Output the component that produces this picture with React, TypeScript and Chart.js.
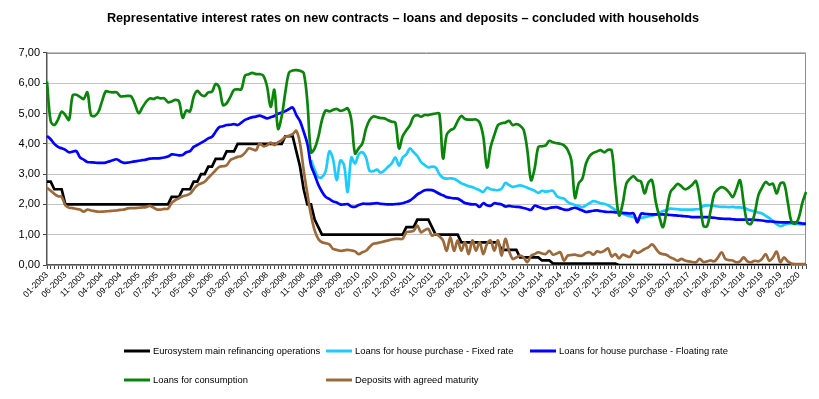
import React, { useEffect, useRef } from "react";
import { Chart, registerables } from "chart.js";

Chart.register(...registerables);

const TITLE =
  "Representative interest rates on new contracts \u2013 loans and deposits \u2013 concluded with households";

const FIRST_YEAR = 2003;
const MONTH_COUNT = 208; // 01-2003 .. 04-2020
const LABEL_EVERY = 5;

const categories: string[] = [];
for (let i = 0; i < MONTH_COUNT; i++) {
  const y = FIRST_YEAR + Math.floor(i / 12);
  const m = (i % 12) + 1;
  categories.push(`${String(m).padStart(2, "0")}-${y}`);
}

const seriesNames = [
  "Eurosystem main refinancing operations",
  "Loans for house purchase - Fixed rate",
  "Loans for house purchase - Floating rate",
  "Loans for consumption",
  "Deposits with agreed maturity",
];

// Eurosystem main refinancing operations
const mro: number[] = [
  2.75, 2.75, 2.5, 2.5, 2.5, 2.0, 2.0, 2.0, 2.0, 2.0, 2.0, 2.0, // 2003
  2.0, 2.0, 2.0, 2.0, 2.0, 2.0, 2.0, 2.0, 2.0, 2.0, 2.0, 2.0, // 2004
  2.0, 2.0, 2.0, 2.0, 2.0, 2.0, 2.0, 2.0, 2.0, 2.0, 2.25, 2.25, // 2005
  2.25, 2.5, 2.5, 2.5, 2.75, 2.75, 3.0, 3.0, 3.25, 3.25, 3.5, 3.5, // 2006
  3.5, 3.75, 3.75, 3.75, 4.0, 4.0, 4.0, 4.0, 4.0, 4.0, 4.0, 4.0, // 2007
  4.0, 4.0, 4.0, 4.0, 4.0, 4.25, 4.25, 4.25, 3.75, 3.25, 2.5, 2.0, // 2008
  2.0, 1.5, 1.25, 1.0, 1.0, 1.0, 1.0, 1.0, 1.0, 1.0, 1.0, 1.0, // 2009
  1.0, 1.0, 1.0, 1.0, 1.0, 1.0, 1.0, 1.0, 1.0, 1.0, 1.0, 1.0, // 2010
  1.0, 1.0, 1.25, 1.25, 1.25, 1.5, 1.5, 1.5, 1.5, 1.25, 1.0, 1.0, // 2011
  1.0, 1.0, 1.0, 1.0, 1.0, 0.75, 0.75, 0.75, 0.75, 0.75, 0.75, 0.75, // 2012
  0.75, 0.75, 0.75, 0.75, 0.5, 0.5, 0.5, 0.5, 0.5, 0.25, 0.25, 0.25, // 2013
  0.25, 0.25, 0.25, 0.15, 0.15, 0.15, 0.05, 0.05, 0.05, 0.05, 0.05, 0.05, // 2014
  0.05, 0.05, 0.05, 0.05, 0.05, 0.05, 0.05, 0.05, 0.05, 0.05, 0.05, 0.05, // 2015
  0, 0, 0, 0, 0, 0, 0, 0, 0, 0, 0, 0, // 2016
  0, 0, 0, 0, 0, 0, 0, 0, 0, 0, 0, 0, // 2017
  0, 0, 0, 0, 0, 0, 0, 0, 0, 0, 0, 0, // 2018
  0, 0, 0, 0, 0, 0, 0, 0, 0, 0, 0, 0, // 2019
  0, 0, 0, 0, // 2020
];

// Loans for house purchase - Fixed rate (starts 01-2009)
const housingFixed: (number | null)[] = [
  null, null, null, null, null, null, null, null, null, null, null, null, // 2003
  null, null, null, null, null, null, null, null, null, null, null, null, // 2004
  null, null, null, null, null, null, null, null, null, null, null, null, // 2005
  null, null, null, null, null, null, null, null, null, null, null, null, // 2006
  null, null, null, null, null, null, null, null, null, null, null, null, // 2007
  null, null, null, null, null, null, null, null, null, null, null, null, // 2008
  3.46, 3.15, 2.9, 2.9, 3.1, 3.75, 3.5, 2.8, 3.45, 3.3, 2.41, 3.55, // 2009
  3.35, 3.65, 3.72, 3.55, 3.1, 3.1, 3.15, 3.05, 3.12, 3.24, 3.35, 3.55, // 2010
  3.28, 3.55, 3.65, 3.85, 3.72, 3.6, 3.4, 3.3, 3.22, 3.25, 3.22, 3.0, // 2011
  2.88, 2.85, 2.86, 2.85, 2.78, 2.7, 2.65, 2.6, 2.57, 2.52, 2.47, 2.41, // 2012
  2.55, 2.5, 2.48, 2.47, 2.52, 2.71, 2.64, 2.58, 2.6, 2.63, 2.6, 2.55, // 2013
  2.5, 2.45, 2.38, 2.45, 2.42, 2.44, 2.45, 2.28, 2.22, 2.19, 2.08, 2.02, // 2014
  1.98, 1.95, 1.91, 1.97, 2.04, 2.11, 2.08, 2.04, 2.02, 1.97, 1.9, 1.82, // 2015
  1.76, 1.69, 1.64, 1.61, 1.58, 1.53, 1.55, 1.58, 1.6, 1.63, 1.66, 1.72, // 2016
  1.78, 1.82, 1.86, 1.85, 1.84, 1.83, 1.83, 1.83, 1.83, 1.84, 1.85, 1.95, // 2017
  1.97, 1.96, 1.95, 1.93, 1.92, 1.92, 1.91, 1.92, 1.9, 1.9, 1.88, 1.84, // 2018
  1.8, 1.77, 1.73, 1.7, 1.62, 1.55, 1.45, 1.35, 1.28, 1.32, 1.36, 1.37, // 2019
  1.36, 1.35, 1.34, 1.34, // 2020
];

// Loans for house purchase - Floating rate
const housingFloating: number[] = [
  4.26, 4.15, 4.0, 3.9, 3.85, 3.8, 3.72, 3.74, 3.76, 3.55, 3.48, 3.4, // 2003
  3.39, 3.38, 3.37, 3.37, 3.38, 3.42, 3.46, 3.49, 3.42, 3.37, 3.38, 3.4, // 2004
  3.42, 3.44, 3.46, 3.48, 3.51, 3.52, 3.52, 3.53, 3.55, 3.58, 3.65, 3.64, // 2005
  3.62, 3.63, 3.72, 3.76, 3.9, 3.96, 4.03, 4.1, 4.18, 4.23, 4.4, 4.55, // 2006
  4.58, 4.62, 4.63, 4.65, 4.62, 4.7, 4.79, 4.84, 4.88, 4.9, 4.93, 4.89, // 2007
  4.84, 4.88, 4.92, 4.99, 5.03, 5.08, 5.15, 5.2, 4.95, 4.75, 4.4, 4.01, // 2008
  3.29, 2.98, 2.65, 2.42, 2.25, 2.18, 2.1, 2.06, 2.0, 2.0, 2.01, 1.93, // 2009
  1.92, 1.98, 2.02, 2.02, 2.02, 2.03, 2.04, 2.02, 2.01, 2.0, 2.0, 2.01, // 2010
  2.02, 2.04, 2.08, 2.13, 2.22, 2.33, 2.4, 2.47, 2.48, 2.47, 2.42, 2.35, // 2011
  2.3, 2.24, 2.22, 2.2, 2.19, 2.12, 2.05, 2.02, 2.0, 2.0, 1.92, 2.04, // 2012
  1.97, 1.96, 2.04, 2.02, 2.0, 1.93, 1.95, 1.93, 1.92, 1.91, 1.88, 1.85, // 2013
  1.82, 1.96, 1.92, 1.88, 1.85, 1.88, 1.9, 1.91, 1.87, 1.83, 1.82, 1.86, // 2014
  1.89, 1.85, 1.8, 1.75, 1.77, 1.79, 1.8, 1.78, 1.76, 1.75, 1.75, 1.74, // 2015
  1.73, 1.72, 1.71, 1.7, 1.7, 1.41, 1.69, 1.69, 1.68, 1.67, 1.67, 1.67, // 2016
  1.67, 1.66, 1.65, 1.64, 1.63, 1.62, 1.61, 1.6, 1.58, 1.58, 1.58, 1.58, // 2017
  1.58, 1.57, 1.56, 1.54, 1.53, 1.52, 1.52, 1.51, 1.5, 1.5, 1.5, 1.5, // 2018
  1.5, 1.49, 1.48, 1.47, 1.45, 1.44, 1.43, 1.42, 1.41, 1.41, 1.41, 1.41, // 2019
  1.4, 1.39, 1.37, 1.36, // 2020
];

// Loans for consumption
const consumption: number[] = [
  6.05, 4.75, 4.62, 4.8, 5.06, 4.95, 4.79, 5.6, 5.62, 5.55, 5.48, 5.7, // 2003
  4.95, 4.92, 5.05, 5.4, 5.73, 5.71, 5.7, 5.7, 5.57, 5.57, 5.58, 5.56, // 2004
  5.3, 5.01, 5.2, 5.38, 5.5, 5.48, 5.53, 5.5, 5.5, 5.37, 5.4, 5.45, // 2005
  5.4, 4.86, 5.1, 5.07, 5.55, 5.75, 5.62, 5.58, 5.7, 5.72, 5.98, 5.85, // 2006
  5.28, 5.34, 5.55, 5.78, 5.8, 5.8, 6.25, 6.3, 6.34, 6.3, 6.3, 6.25, // 2007
  5.9, 5.22, 5.78, 4.5, 4.9, 5.7, 6.35, 6.42, 6.43, 6.41, 6.34, 5.4, // 2008
  3.72, 3.85, 4.23, 4.79, 5.1, 5.07, 5.12, 5.15, 5.09, 5.12, 5.17, 4.79, // 2009
  3.68, 3.85, 4.01, 4.5, 4.79, 4.9, 4.88, 4.85, 4.84, 4.78, 4.73, 4.7, // 2010
  3.85, 4.25, 4.45, 4.62, 4.9, 4.95, 4.9, 4.95, 4.95, 4.98, 5.0, 5.0, // 2011
  3.52, 4.3, 4.45, 4.51, 4.75, 4.92, 4.82, 4.8, 4.8, 4.8, 4.7, 4.23, // 2012
  3.22, 3.9, 4.29, 4.62, 4.68, 4.7, 4.76, 4.62, 4.65, 4.6, 4.46, 3.79, // 2013
  2.8, 3.19, 3.9, 3.92, 3.95, 4.1, 4.05, 4.02, 4.0, 3.95, 3.8, 3.46, // 2014
  2.22, 2.69, 2.85, 3.35, 3.6, 3.7, 3.75, 3.79, 3.72, 3.8, 3.78, 2.6, // 2015
  1.64, 2.02, 2.69, 2.85, 2.93, 2.8, 2.75, 2.36, 2.72, 2.8, 2.1, 1.6, // 2016
  1.25, 1.8, 2.4, 2.55, 2.68, 2.6, 2.5, 2.55, 2.65, 2.77, 2.2, 1.3, // 2017
  1.28, 1.8, 2.35, 2.5, 2.57, 2.52, 2.4, 2.24, 2.5, 2.8, 2.05, 1.4, // 2018
  1.36, 1.7, 2.3, 2.55, 2.74, 2.65, 2.68, 2.36, 2.69, 2.7, 2.1, 1.45, // 2019
  1.36, 1.55, 2.05, 2.41, // 2020
];

// Deposits with agreed maturity
const deposits: number[] = [
  2.55, 2.45, 2.35, 2.27, 2.25, 1.97, 1.89, 1.88, 1.85, 1.83, 1.76, 1.83, // 2003
  1.8, 1.78, 1.76, 1.76, 1.77, 1.78, 1.79, 1.8, 1.82, 1.83, 1.87, 1.88, // 2004
  1.88, 1.89, 1.9, 1.91, 1.95, 1.9, 1.83, 1.83, 1.85, 1.86, 2.05, 2.14, // 2005
  2.2, 2.27, 2.3, 2.35, 2.5, 2.63, 2.69, 2.75, 2.88, 3.0, 3.13, 3.24, // 2006
  3.26, 3.29, 3.46, 3.52, 3.57, 3.6, 3.7, 3.85, 3.82, 3.79, 4.01, 3.92, // 2007
  3.95, 4.04, 3.96, 4.05, 4.12, 4.23, 4.27, 4.32, 4.43, 4.01, 3.13, 2.36, // 2008
  1.65, 1.14, 0.86, 0.75, 0.72, 0.68, 0.53, 0.5, 0.47, 0.48, 0.5, 0.48, // 2009
  0.45, 0.36, 0.42, 0.47, 0.6, 0.7, 0.72, 0.75, 0.78, 0.81, 0.84, 0.86, // 2010
  0.86, 0.87, 1.08, 1.1, 1.13, 1.3, 1.08, 1.15, 1.19, 0.97, 1.02, 0.95, // 2011
  0.81, 0.47, 0.92, 0.47, 0.81, 0.47, 0.75, 0.36, 0.81, 0.47, 0.75, 0.36, // 2012
  0.7, 0.81, 0.47, 0.81, 0.31, 0.86, 0.47, 0.2, 0.25, 0.31, 0.25, 0.09, // 2013
  0.3, 0.36, 0.42, 0.38, 0.36, 0.47, 0.34, 0.38, 0.42, 0.14, 0.31, 0.33, // 2014
  0.34, 0.31, 0.31, 0.4, 0.42, 0.34, 0.45, 0.42, 0.47, 0.55, 0.28, 0.36, // 2015
  0.22, 0.34, 0.3, 0.27, 0.47, 0.4, 0.45, 0.53, 0.58, 0.68, 0.55, 0.4, // 2016
  0.36, 0.33, 0.25, 0.2, 0.14, 0.2, 0.15, 0.12, 0.1, 0.09, 0.2, 0.1, // 2017
  0.12, 0.15, 0.12, 0.25, 0.42, 0.2, 0.16, 0.15, 0.09, 0.12, 0.25, 0.12, // 2018
  0.09, 0.14, 0.12, 0.2, 0.36, 0.14, 0.25, 0.44, 0.09, 0.25, 0.12, 0.05, // 2019
  0.03, 0.03, 0.03, 0.03, // 2020
];

const yTicks = [0, 1, 2, 3, 4, 5, 6, 7];

const FONT = "'Liberation Sans', Arial, sans-serif";
const COLORS = ["#000000", "#1ecbff", "#0000ff", "#0b840b", "#9c6a3a"];

const decorPlugin = {
  id: "decor",
  beforeDatasetsDraw(chart: any) {
    const { ctx, chartArea: a } = chart;
    ctx.save();
    ctx.strokeStyle = "#8c8c8c";
    ctx.lineWidth = 1;
    ctx.beginPath();
    ctx.moveTo(a.left, a.top + 0.5);
    ctx.lineTo(a.right - 0.5, a.top + 0.5);
    ctx.lineTo(a.right - 0.5, a.bottom);
    ctx.stroke();
    ctx.restore();
  },
  afterDraw(chart: any) {
    const { ctx } = chart;
    const cols = [124, 326, 530];
    const rows = [351, 380];
    const slots = [
      [0, 0],
      [1, 0],
      [2, 0],
      [0, 1],
      [1, 1],
    ];
    ctx.save();
    ctx.font = `9.4px ${FONT}`;
    ctx.textBaseline = "middle";
    ctx.textAlign = "left";
    seriesNames.forEach((name, i) => {
      const x = cols[slots[i][0]];
      const y = rows[slots[i][1]];
      ctx.strokeStyle = COLORS[i];
      ctx.lineWidth = 3;
      ctx.beginPath();
      ctx.moveTo(x, y);
      ctx.lineTo(x + 26, y);
      ctx.stroke();
      ctx.fillStyle = "#000";
      ctx.fillText(name, x + 29, y);
    });
    ctx.restore();
  },
};

export default function App() {
  const ref = useRef<HTMLCanvasElement | null>(null);

  useEffect(() => {
    if (!ref.current) return;
    const seriesData = [mro, housingFixed, housingFloating, consumption, deposits];
    const chart = new Chart(ref.current, {
      type: "line",
      data: {
        labels: categories,
        datasets: seriesData.map((d, i) => ({
          label: seriesNames[i],
          data: d,
          borderColor: COLORS[i],
          backgroundColor: COLORS[i],
          borderWidth: 2.7,
          pointRadius: 0,
          tension: i === 0 ? 0 : 0.35,
          fill: false,
          order: 4 - i,
          spanGaps: false,
        })),
      },
      options: {
        responsive: false,
        animation: false,
        events: [],
        layout: { padding: { top: 0, right: 13, bottom: 74, left: 0 } },
        plugins: {
          legend: { display: false },
          tooltip: { enabled: false },
          title: {
            display: true,
            text: TITLE,
            color: "#000",
            font: { family: FONT, size: 12.7, weight: "bold" },
            padding: { top: 10.5, bottom: 27.2 },
          },
        },
        scales: {
          x: {
            type: "category",
            offset: false,
            afterFit: (s: any) => {
              s.height = 60;
            },
            border: { display: true, color: "#555555", width: 1.5 },
            grid: {
              display: true,
              drawOnChartArea: false,
              drawTicks: true,
              tickLength: 4,
              tickColor: "#444444",
            },
            ticks: {
              autoSkip: false,
              minRotation: 45,
              maxRotation: 45,
              padding: 1,
              color: "#000",
              font: { family: FONT, size: 8.6 },
              callback: (_v: any, i: number) => (i % LABEL_EVERY === 0 ? categories[i] : ""),
            },
          },
          y: {
            min: yTicks[0],
            max: yTicks[yTicks.length - 1],
            afterFit: (s: any) => {
              s.width = 47;
            },
            afterBuildTicks: (s: any) => {
              s.ticks = yTicks.map((v) => ({ value: v }));
            },
            border: { display: true, color: "#555555", width: 1.5 },
            grid: {
              color: "#c4c4c4",
              lineWidth: 1,
              tickLength: 4,
              tickColor: "#444444",
            },
            ticks: {
              padding: 3,
              color: "#000",
              font: { family: FONT, size: 11 },
              callback: (v: any) => Number(v).toFixed(2).replace(".", ","),
            },
          },
        },
      },
      plugins: [decorPlugin],
    });
    return () => chart.destroy();
  }, []);

  return (
    <div style={{ position: "absolute", left: 0, top: 0, width: 819, height: 399, background: "#fff" }}>
      <canvas ref={ref} width={819} height={399} style={{ display: "block" }} />
    </div>
  );
}
